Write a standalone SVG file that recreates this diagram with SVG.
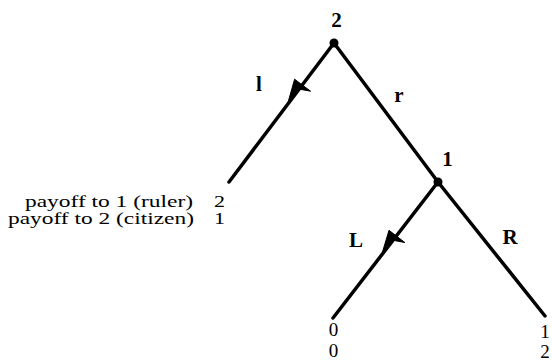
<svg xmlns="http://www.w3.org/2000/svg" width="552" height="361" viewBox="0 0 552 361">
<style>
.e{stroke:#000;stroke-width:3.5;fill:none;stroke-linecap:round}
text{font-family:"Liberation Serif","Times New Roman",serif;fill:#000}
.b{font-weight:bold;font-size:21px}
.p{font-size:16px}
.v{font-size:19px}
.a{fill:#000;stroke:#000;stroke-width:1;stroke-linejoin:miter}
</style>
<rect width="552" height="361" fill="#fff"/>
<g id="connectors">
<line class="e" x1="334" y1="43" x2="229" y2="182"/>
<line class="e" x1="334" y1="43" x2="438" y2="182"/>
<line class="e" x1="438" y1="182" x2="333" y2="318"/>
<line class="e" x1="438" y1="182" x2="545" y2="316"/>
<polygon class="a" points="287,106 294.6,79.2 310.6,91.2 299.6,89.2"/>
<polygon class="a" points="381,257 389,230.3 404.8,242.5 393.9,240.4"/>
</g>
<g id="n2">
<circle cx="334" cy="43" r="4.5" fill="#000"/>
<text x="336.5" y="27" text-anchor="middle" class="b">2</text>
</g>
<g id="n1">
<circle cx="438" cy="182" r="4.5" fill="#000"/>
<text x="447.5" y="166" text-anchor="middle" class="b">1</text>
</g>
<g id="labels">
<text x="259" y="91" text-anchor="middle" class="b">l</text>
<text x="399" y="102" text-anchor="middle" class="b">r</text>
<text x="356" y="247" text-anchor="middle" class="b">L</text>
<text x="510" y="244" text-anchor="middle" class="b">R</text>
</g>
<g id="leafLeft">
<text x="25" y="207" class="p" textLength="168" lengthAdjust="spacingAndGlyphs">payoff to 1 (ruler)</text>
<text x="8" y="224" class="p" textLength="186" lengthAdjust="spacingAndGlyphs">payoff to 2 (citizen)</text>
<text x="214" y="207" class="p" textLength="11" lengthAdjust="spacingAndGlyphs">2</text>
<text x="214" y="224" class="p" textLength="11" lengthAdjust="spacingAndGlyphs">1</text>
</g>
<g id="leafL">
<text x="333.5" y="336" text-anchor="middle" class="v">0</text>
<text x="333.5" y="357" text-anchor="middle" class="v">0</text>
</g>
<g id="leafR">
<text x="545" y="338" text-anchor="middle" class="v">1</text>
<text x="545" y="358" text-anchor="middle" class="v">2</text>
</g>
</svg>
